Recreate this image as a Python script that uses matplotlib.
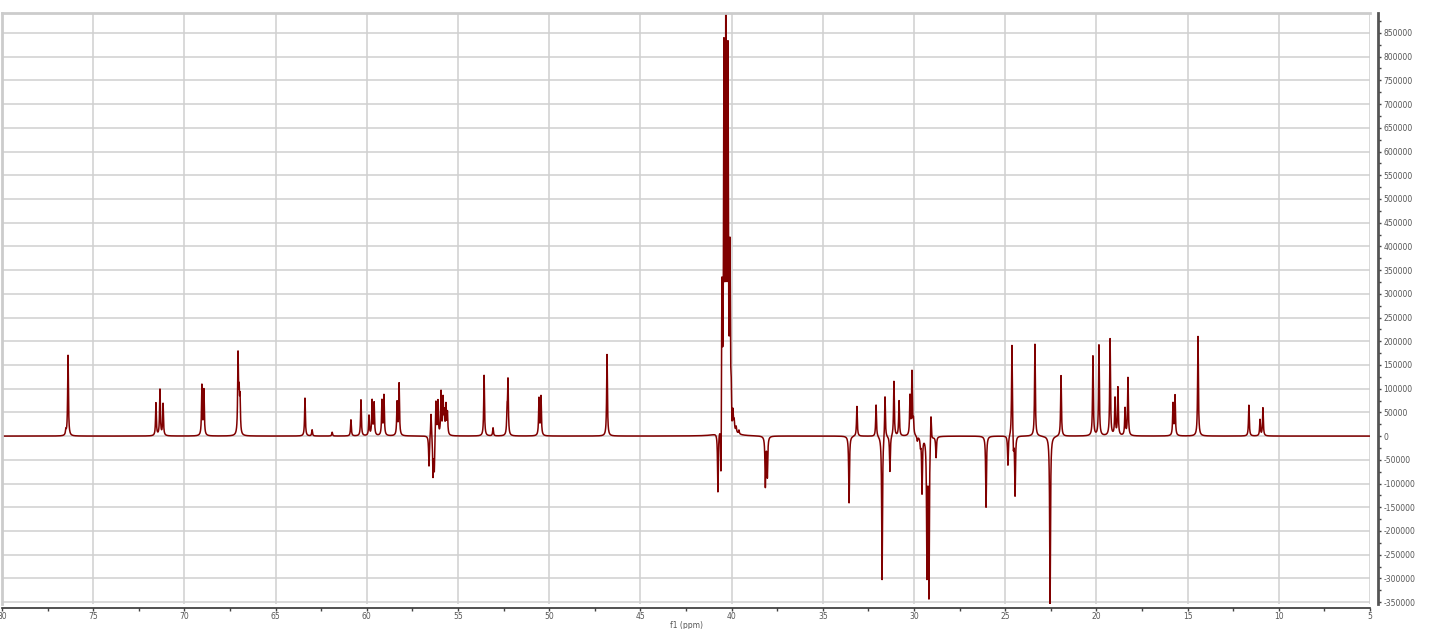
import numpy as np
import matplotlib
matplotlib.use("Agg")
import matplotlib.pyplot as plt
from matplotlib.ticker import MultipleLocator, FormatStrFormatter

# peak positions (ppm) and intensities
peak_ppm = [
    76.38, 76.50,
    71.56, 71.34, 71.17,
    69.04, 68.93,
    67.06, 67.00, 66.95,
    63.39, 63.00, 61.90, 60.87, 60.32, 59.88, 59.71, 59.60, 59.17, 59.06,
    58.34, 58.23,
    56.59, 56.48, 56.37, 56.30, 56.21, 56.10, 55.93, 55.82, 55.75, 55.66, 55.58,
    53.57, 53.08, 52.31, 52.26,
    50.56, 50.45,
    46.83,
    40.75, 40.58, 40.53, 40.42, 40.31, 40.20, 40.09, 40.02, 39.98, 39.93, 39.86,
    39.75, 39.60,
    38.15, 38.04,
    33.56, 33.13, 32.08, 31.75, 31.59, 31.32, 31.10, 30.82, 30.22, 30.11, 30.03,
    29.82, 29.65, 29.56, 29.29, 29.18, 29.07, 28.79,
    26.05, 24.85, 24.63, 24.55, 24.46,
    23.37, 22.54, 21.94,
    20.19, 19.86, 19.25, 18.98, 18.82, 18.43, 18.27,
    15.80, 15.69, 14.43, 11.64, 11.03, 10.87,
]
peak_height = [
    170000, 10000,
    69000, 97000, 67000,
    105000, 95000,
    165000, 75000, 70000,
    80000, 13000, 8000, 34000, 76000, 42000, 73000, 68000, 73000, 84000,
    69000, 109000,
    -65000, 53000, -84000, -74000, 76000, 72000, 90000, 74000, 44000, 61000, 46000,
    128000, 17000, 48000, 113000,
    78000, 82000,
    172000,
    -128000, -160000, 313000, 768000, 1000000, 755000, 358000, 63000, -27000, 36000, 20000,
    12000, 8000,
    -105000, -84000,
    -141000, 63000, 67000, -305000, 90000, -76000, 116000, 74000, 82000, 133000, 29000,
    -10000, -17000, -118000, -286000, -332000, 61000, -44000,
    -150000, -63000, 198000, -38000, -128000,
    194000, -360000, 128000,
    168000, 191000, 204000, 78000, 101000, 57000, 122000,
    67000, 84000, 210000, 65000, 34000, 59000,
]

x_ticks = [80, 75, 70, 65, 60, 55, 50, 45, 40, 35, 30, 25, 20, 15, 10, 5]
y_ticks = list(range(-350000, 850001, 50000))

# build the trace: lorentzian lines on a ppm grid
ppm = np.linspace(80, 5, 15001)
hw = 0.025
spec = np.zeros_like(ppm)
for p, h in zip(peak_ppm, peak_height):
    spec += h * hw**2 / ((ppm - p)**2 + hw**2)

fig = plt.figure(figsize=(14.35, 6.29), dpi=100)
ax = fig.add_axes([2 / 1435, 25 / 629, 1368 / 1435, 591 / 629])

ax.plot(ppm, spec, color="#800000", linewidth=1.1)

ax.set_xlim(80, 5)
ax.set_ylim(-354000, 892000)

ax.set_xticks(x_ticks)
ax.xaxis.set_minor_locator(MultipleLocator(2.5))
ax.set_yticks(y_ticks)
ax.yaxis.set_minor_locator(MultipleLocator(25000))
ax.yaxis.set_major_formatter(FormatStrFormatter("%d"))

ax.yaxis.tick_right()
ax.grid(True, which="major", color="#d0d0d0", linewidth=1.1)
ax.set_axisbelow(True)

for s in ["left", "top"]:
    ax.spines[s].set_color("#cccccc")
    ax.spines[s].set_linewidth(2)
ax.spines["right"].set_position(("outward", 6))
ax.spines["bottom"].set_position(("outward", 3))
ax.spines["right"].set_color("#555555")
ax.spines["right"].set_linewidth(2)
ax.spines["bottom"].set_color("#333333")
ax.spines["bottom"].set_linewidth(1.2)

ax.tick_params(axis="both", which="major", labelsize=5.5, labelcolor="#555555",
               color="#444444", length=2.5, width=1, pad=1)
ax.tick_params(axis="x", which="major", pad=0.5)
ax.tick_params(axis="both", which="minor", length=2, width=1, colors="#444444")

ax.set_xlabel("f1 (ppm)", fontsize=5.5, color="#555555", labelpad=0)

fig.savefig("out.png", dpi=100)
